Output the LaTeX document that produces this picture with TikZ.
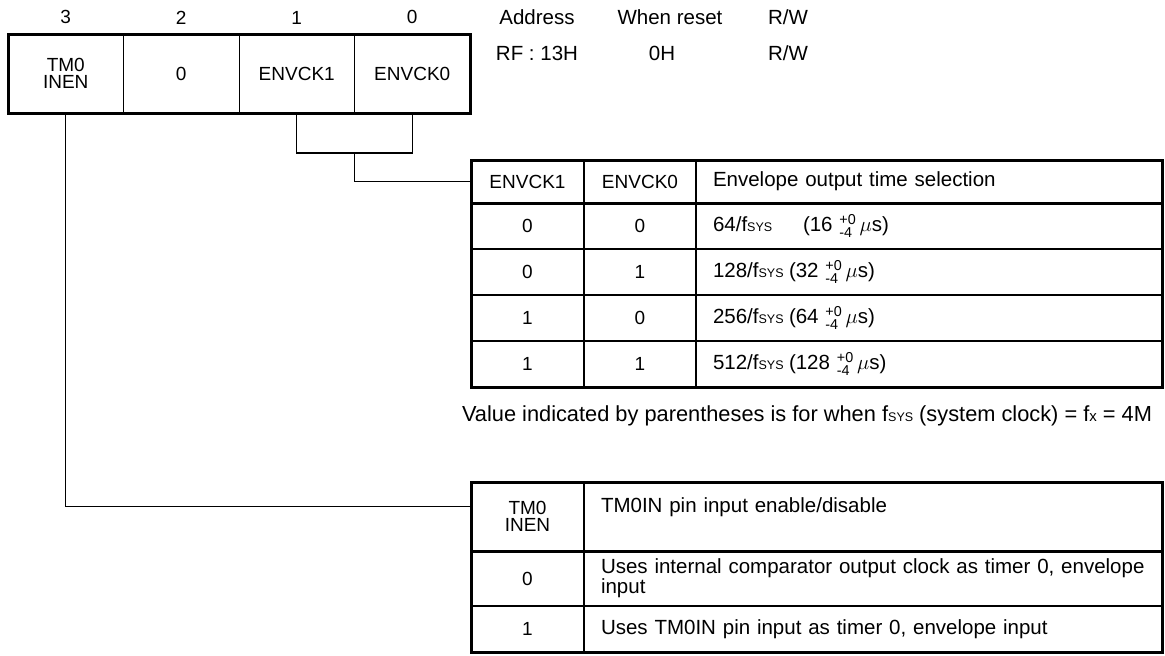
\documentclass[tikz,border=0pt]{standalone}
\usepackage{amsmath}
\usepackage{fontspec}
\setmainfont{Liberation Sans}
\usepackage{tikz}
\usetikzlibrary{calc,positioning}
\newcommand{\fsys}{f{\fontsize{12.5}{12.5}\selectfont SYS}}
\newcommand{\tol}{$^{\text{+0}}_{\text{-4}}$}

\begin{document}
\begin{tikzpicture}[x=1pt,y=-1pt,node distance=0pt,
    every node/.style={inner sep=0pt,outer sep=0pt,font=\fontsize{19}{17}\selectfont},
    regcell/.style={draw,line width=1pt,minimum width=115.5pt,minimum height=79pt,align=center},
    cell/.style={draw,line width=1.2pt,minimum width=113pt,minimum height=46pt,align=center},
    wide/.style={cell,minimum width=0pt,text width=432pt,inner xsep=17pt,align=left,
      font=\fontsize{20.5}{17}\selectfont},
    txt/.style={font=\fontsize{20.5}{17}\selectfont},
    boxline/.style={line width=3pt},
    wire/.style={line width=1.3pt}]
    \useasboundingbox (0,0) rectangle (1165,656);
    % register
    \node[regcell,anchor=north west] (tm0) at (8,34) {TM0\\INEN};
    \node[regcell,right=of tm0] (zero) {0};
    \node[regcell,right=of zero] (ck1) {ENVCK1};
    \node[regcell,right=of ck1] (ck0) {ENVCK0};
    \draw[boxline] (tm0.north west) rectangle (ck0.south east);
    \node[above=10pt of tm0] (bit3) {3};
    \node[above=10pt of zero] (bit2) {2};
    \node[above=10pt of ck1] (bit1) {1};
    \node[above=10pt of ck0] (bit0) {0};
    \node[txt] (addr) at (537,17) {Address};
    \node[txt] (rst) at (670,17) {When reset};
    \node[txt] (rw) at (788,17) {R/W};
    \node[txt] (addrv) at (537,53) {RF : 13H};
    \node[txt] (rstv) at (662,53) {0H};
    \node[txt] (rwv) at (788,53) {R/W};
    % envelope output time table
    \node[cell,anchor=north west,minimum height=43pt] (h1) at (471,160) {ENVCK1};
    \node[cell,minimum width=112pt,minimum height=43pt,right=of h1] (h0) {ENVCK0};
    \node[wide,minimum height=43pt,right=of h0] (hsel) {Envelope output time selection};
    \foreach \a/\b/\w/\f/\v [count=\i] in {0/0/90/64/16,0/1/76/128/32,1/0/76/256/64,1/1/76/512/128} {
      \node[cell,anchor=north west] (a\i) at (471,157+46*\i) {\a};
      \node[cell,minimum width=112pt,right=of a\i] (b\i) {\b};
      \node[wide,right=of b\i] (t\i) {\makebox[\w pt][l]{\f/\fsys}(\v~\tol\,$\mu$s)};
    }
    \draw[boxline] (h1.north west) rectangle (t4.south east);
    \draw[boxline] (h1.south west) -- (hsel.south east);
    \node[anchor=west,font=\fontsize{21.8}{17}\selectfont] (note) at (462,416)
      {Value indicated by parentheses is for when \fsys\ (system clock) = f{\fontsize{15}{15}\selectfont x} = 4M};
    % TM0INEN table
    \node[cell,anchor=north west,minimum height=69pt] (th) at (471,482) {TM0\\INEN};
    \node[wide,text width=544pt,minimum height=69pt,right=of th] (tdesc) {TM0IN pin input enable/disable\\\strut};
    \node[cell,anchor=north west,minimum height=55pt] (s0) at (471,551) {0};
    \node[wide,text width=544pt,minimum height=55pt,right=of s0] (u0)
      {Uses internal comparator output clock as timer 0, envelope\\input};
    \node[cell,below=of s0] (s1) {1};
    \node[wide,text width=544pt,right=of s1] (u1) {Uses TM0IN pin input as timer 0, envelope input};
    \draw[boxline] (th.north west) rectangle (u1.south east);
    \draw[boxline] (th.south west) -- (tdesc.south east);
    % connectors
    \coordinate (mid) at ($(ck1.south)!.5!(ck0.south)+(0,40)$);
    \draw[wire] (ck1.south) |- (mid) -| (ck0.south);
    \draw[wire] (mid) |- (h1.west);
    \draw[wire] (tm0.south) |- ([yshift=10pt]th.west);
  \end{tikzpicture}
\end{document}
